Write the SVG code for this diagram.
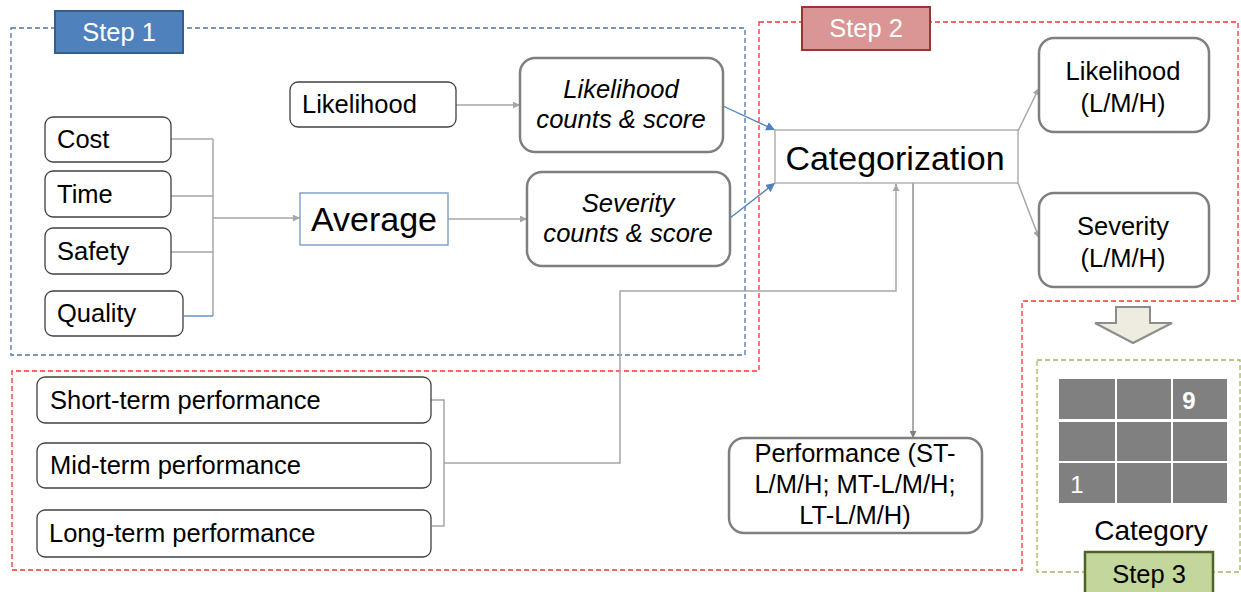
<svg xmlns="http://www.w3.org/2000/svg" width="1241" height="592" viewBox="0 0 1241 592">
  <style>
    text { font-family: "Liberation Sans", Arial, sans-serif; fill: #000; }
    .in { fill: #fff; stroke: #404040; stroke-width: 1.3; }
    .out { fill: #fff; stroke: #7f7f7f; stroke-width: 2.5; }
    .sq { fill: #fff; stroke: #a6a6a6; stroke-width: 1.3; }
    .t24 { font-size: 25.5px; }
    .it { font-size: 25.6px; font-style: italic; }
    .big { font-size: 34px; }
    .mid { text-anchor: middle; }
    .grey { fill: none; stroke: #a6a6a6; stroke-width: 1.5; }
    .blue { fill: none; stroke: #4f81bd; stroke-width: 1.3; }
    .dk { fill: none; stroke: #7f7f7f; stroke-width: 1.3; }
    .cell { fill: #808080; }
  </style>
  <defs>
    <marker id="ag" viewBox="0 0 10 10" refX="10" refY="5" markerWidth="7" markerHeight="7" markerUnits="userSpaceOnUse" orient="auto">
      <path d="M0,0 L10,5 L0,10 z" fill="#a6a6a6"/>
    </marker>
    <marker id="ab" viewBox="0 0 10 10" refX="10" refY="5" markerWidth="9" markerHeight="9" markerUnits="userSpaceOnUse" orient="auto">
      <path d="M0,0 L10,5 L0,10 z" fill="#4f81bd"/>
    </marker>
    <marker id="ad" viewBox="0 0 10 10" refX="10" refY="5" markerWidth="7" markerHeight="7" markerUnits="userSpaceOnUse" orient="auto">
      <path d="M0,0 L10,5 L0,10 z" fill="#7f7f7f"/>
    </marker>
  </defs>
  <rect width="1241" height="592" fill="#fff"/>

  <!-- step frames -->
  <g id="frames" fill="none" stroke-width="1.3" stroke-dasharray="5,3">
    <rect x="11" y="28" width="734" height="327" stroke="#4f73a8"/>
    <path d="M759,22 H1238 V301 H1022 V570 H12 V371 H759 Z" stroke="#ff3030"/>
    <rect x="1037" y="360" width="203" height="212" stroke="#9bbb59"/>
  </g>

  <!-- connectors -->
  <g id="connectors">
    <path class="grey" d="M171,139 H213 M171,196 H213 M171,252 H213 M213,139 V316"/>
    <path class="blue" d="M184,316 H213"/>
    <path class="grey" d="M213,218 H300" marker-end="url(#ag)"/>
    <path class="grey" d="M456,105 H520" marker-end="url(#ag)"/>
    <path class="grey" d="M448,219 H527" marker-end="url(#ag)"/>
    <path class="blue" d="M723,106 L775,130" marker-end="url(#ab)"/>
    <path class="blue" d="M730,218 L775,183" marker-end="url(#ab)"/>
    <path class="grey" d="M1018,131 L1039,88" marker-end="url(#ag)"/>
    <path class="grey" d="M1018,183 L1039,238" marker-end="url(#ag)"/>
    <path class="grey" d="M431,400 H444 V526 H432 M444,463 H620 V291 H896 V184" marker-end="url(#ag)"/>
    <path class="dk" d="M913,183 V438" marker-end="url(#ad)"/>
  </g>

  <!-- step 1 -->
  <g id="step1">
    <rect x="55" y="11" width="128" height="42" fill="#4f81bd" stroke="#385d8a" stroke-width="2"/>
    <text x="119" y="41" class="t24 mid" style="fill:#fff">Step 1</text>
  </g>
  <g id="cost">
    <rect class="in" x="45" y="117" width="126" height="45" rx="8"/>
    <text x="57" y="148" class="t24">Cost</text>
  </g>
  <g id="time">
    <rect class="in" x="45" y="171" width="126" height="46" rx="8"/>
    <text x="57" y="203" class="t24">Time</text>
  </g>
  <g id="safety">
    <rect class="in" x="45" y="228" width="126" height="46" rx="8"/>
    <text x="57" y="260" class="t24">Safety</text>
  </g>
  <g id="quality">
    <rect class="in" x="45" y="291" width="138" height="45" rx="8"/>
    <text x="57" y="322" class="t24">Quality</text>
  </g>
  <g id="likelihood-input">
    <rect class="in" x="290" y="82" width="166" height="45" rx="8"/>
    <text x="302" y="113" class="t24">Likelihood</text>
  </g>
  <g id="average">
    <rect x="300" y="193" width="148" height="52" fill="#fff" stroke="#7094c4" stroke-width="1.3"/>
    <text x="374" y="231" class="big mid">Average</text>
  </g>
  <g id="likelihood-score">
    <rect class="out" x="520" y="58" width="203" height="94" rx="15"/>
    <text x="621" y="98" class="it mid">Likelihood</text>
    <text x="621" y="128" class="it mid">counts &amp; score</text>
  </g>
  <g id="severity-score">
    <rect class="out" x="527" y="172" width="203" height="94" rx="15"/>
    <text x="628" y="212" class="it mid">Severity</text>
    <text x="628" y="242" class="it mid">counts &amp; score</text>
  </g>

  <!-- step 2 -->
  <g id="step2">
    <rect x="802" y="7" width="128" height="43" fill="#d99694" stroke="#953735" stroke-width="2"/>
    <text x="866" y="37" class="t24 mid" style="fill:#fff">Step 2</text>
  </g>
  <g id="categorization">
    <rect class="sq" x="775" y="130" width="243" height="53"/>
    <text x="895" y="170" class="big mid">Categorization</text>
  </g>
  <g id="likelihood-lmh">
    <rect class="out" x="1039" y="38" width="170" height="94" rx="15"/>
    <text x="1123" y="80" class="t24 mid">Likelihood</text>
    <text x="1123" y="112" class="t24 mid">(L/M/H)</text>
  </g>
  <g id="severity-lmh">
    <rect class="out" x="1039" y="193" width="170" height="94" rx="15"/>
    <text x="1123" y="235" class="t24 mid">Severity</text>
    <text x="1123" y="267" class="t24 mid">(L/M/H)</text>
  </g>
  <g id="short-term">
    <rect class="in" x="37" y="377" width="394" height="46" rx="8"/>
    <text x="50" y="409" class="t24">Short-term performance</text>
  </g>
  <g id="mid-term">
    <rect class="in" x="37" y="443" width="394" height="45" rx="8"/>
    <text x="50" y="474" class="t24">Mid-term performance</text>
  </g>
  <g id="long-term">
    <rect class="in" x="37" y="510" width="394" height="47" rx="8"/>
    <text x="49" y="542" class="t24">Long-term performance</text>
  </g>
  <g id="performance">
    <rect class="out" x="729" y="438" width="253" height="95" rx="15"/>
    <text x="855" y="462" class="t24 mid">Performance (ST-</text>
    <text x="855" y="493" class="t24 mid">L/M/H; MT-L/M/H;</text>
    <text x="855" y="524" class="t24 mid">LT-L/M/H)</text>
  </g>

  <!-- step 3 -->
  <g id="transition-arrow">
    <path d="M1116,307 H1150 V323 H1172 L1133,343 L1095,323 H1116 Z" fill="#eeece1" stroke="#8c8c8c" stroke-width="2"/>
  </g>
  <g id="category">
    <rect class="cell" x="1059" y="379" width="56" height="40"/>
    <rect class="cell" x="1117" y="379" width="54" height="40"/>
    <rect class="cell" x="1173" y="379" width="54" height="40"/>
    <rect class="cell" x="1059" y="422" width="56" height="39"/>
    <rect class="cell" x="1117" y="422" width="54" height="39"/>
    <rect class="cell" x="1173" y="422" width="54" height="39"/>
    <rect class="cell" x="1059" y="463" width="56" height="40"/>
    <rect class="cell" x="1117" y="463" width="54" height="40"/>
    <rect class="cell" x="1173" y="463" width="54" height="40"/>
    <text x="1189" y="409" class="mid" style="fill:#fff;font-size:24px;font-weight:bold">9</text>
    <text x="1077" y="493" class="mid" style="fill:#fff;font-size:24px">1</text>
    <text x="1151" y="540" class="mid" style="font-size:28px">Category</text>
  </g>
  <g id="step3">
    <rect x="1085" y="552" width="128" height="45" fill="#c3d69b" stroke="#4f6228" stroke-width="2.5"/>
    <text x="1149" y="583" class="t24 mid">Step 3</text>
  </g>
</svg>
